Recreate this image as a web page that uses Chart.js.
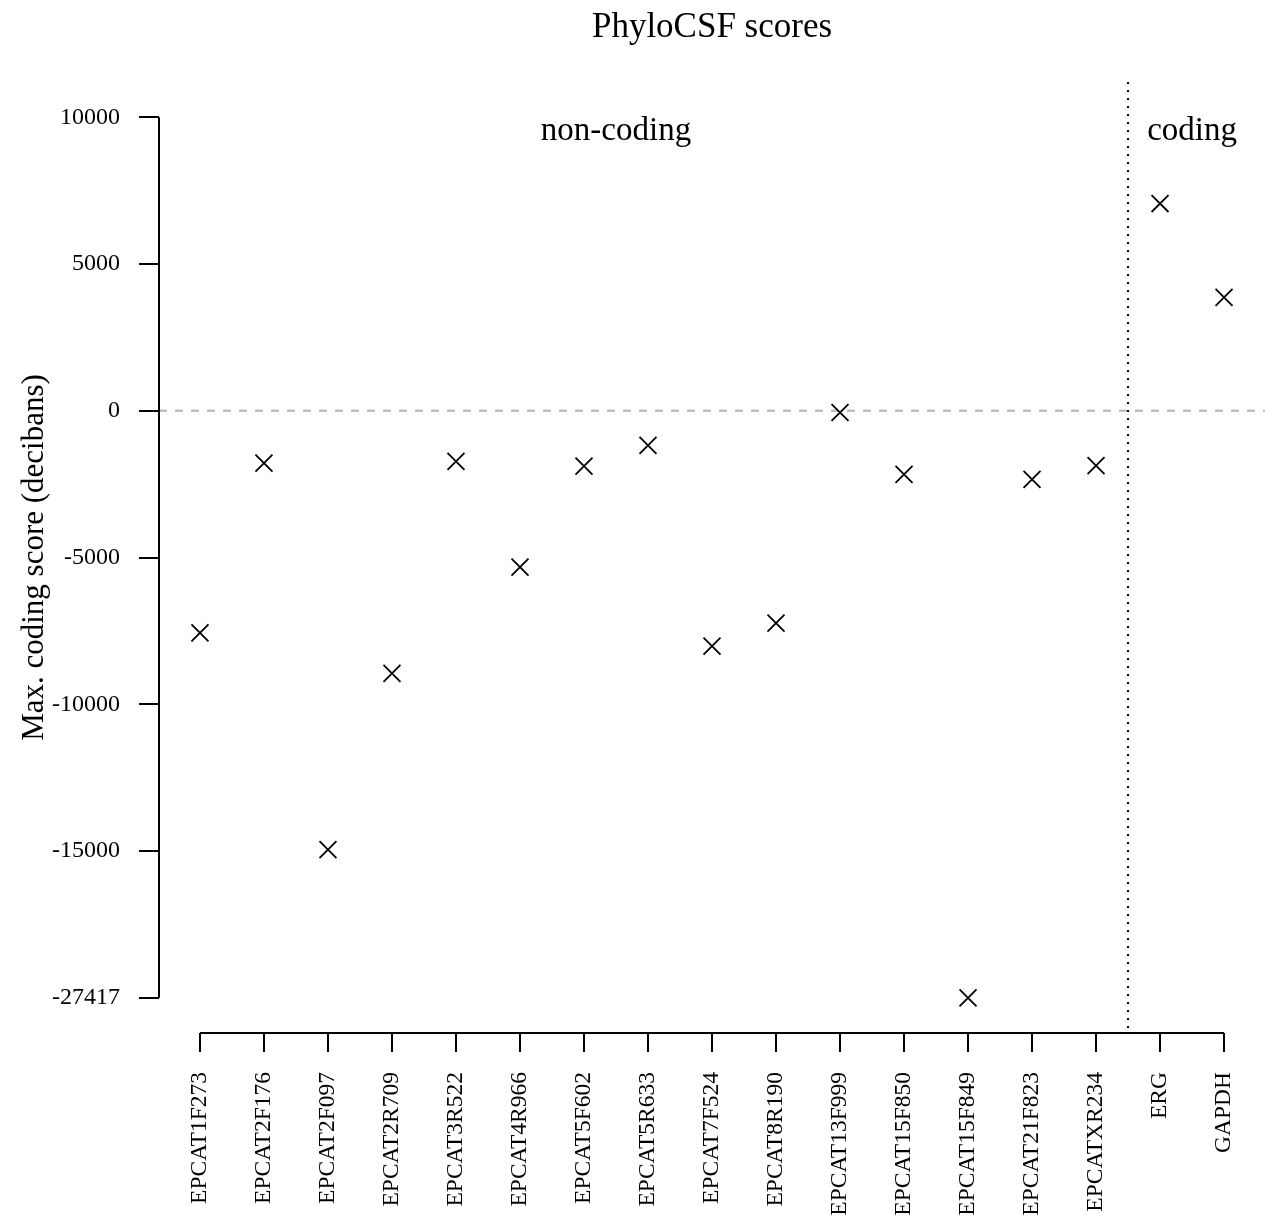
<!DOCTYPE html>
<html>
<head>
<meta charset="utf-8">
<title>PhyloCSF scores</title>
<script src="https://cdn.jsdelivr.net/npm/chart.js@4/dist/chart.umd.min.js"></script>
<style>
    body { margin: 0; background: #fff; }
    canvas { display: block; }
</style>
</head>
<body>
<canvas id="phylo-chart" width="1265" height="1220"></canvas>
<script>
// PhyloCSF max coding scores per transcript (decibans)
const transcripts = ['EPCAT1F273', 'EPCAT2F176', 'EPCAT2F097', 'EPCAT2R709', 'EPCAT3R522', 'EPCAT4R966',
    'EPCAT5F602', 'EPCAT5R633', 'EPCAT7F524', 'EPCAT8R190', 'EPCAT13F999', 'EPCAT15F850',
    'EPCAT15F849', 'EPCAT21F823', 'EPCATXR234', 'ERG', 'GAPDH'];
const maxScores = [-7570, -1785, -14950, -8950, -1727, -5329,
    -1888, -1182, -8020, -7237, -60, -2170,
    -27417, -2340, -1870, 7060, 3860];
const yTicks = [10000, 5000, 0, -5000, -10000, -15000, -20000];
const groupNames = ['non-coding', 'coding'];

// the axis is broken below -15000: the lowest score sits where -20000 would be
const breakAt = -15000;
const floorScore = -27417;
const floorPos = -20000;

function axisPos(v) {
    if (v >= breakAt) return v;
    return breakAt + (v - breakAt) * (floorPos - breakAt) / (floorScore - breakAt);
}

function tickText(v) {
    return v === floorPos ? String(floorScore) : String(v);
}

const FONT = "'Liberation Serif', 'Times New Roman', serif";
Chart.defaults.font.family = FONT;
Chart.defaults.color = '#000';

/**
 * R style decorations: short axes, reference lines, title and group labels
 */
const rStyle = {
    id: 'rStyle',
    beforeDatasetsDraw(chart) {
        const { ctx, chartArea, scales } = chart;
        const x = scales.x, y = scales.y;
        ctx.save();
        // zero line
        ctx.strokeStyle = '#bebebe';
        ctx.lineWidth = 2.5;
        ctx.setLineDash([8, 8]);
        ctx.beginPath();
        ctx.moveTo(chartArea.left, y.getPixelForValue(0));
        ctx.lineTo(chartArea.right, y.getPixelForValue(0));
        ctx.stroke();
        // split between non-coding and coding
        const split = x.getPixelForValue(transcripts.length - 2.5);
        ctx.strokeStyle = '#000';
        ctx.lineWidth = 2;
        ctx.setLineDash([2, 6]);
        ctx.beginPath();
        ctx.moveTo(split, chartArea.top);
        ctx.lineTo(split, chartArea.bottom);
        ctx.stroke();
        ctx.restore();
    },
    afterDraw(chart) {
        const { ctx, chartArea, scales } = chart;
        const x = scales.x, y = scales.y;
        ctx.save();
        ctx.strokeStyle = '#000';
        ctx.lineWidth = 2;
        ctx.beginPath();
        ctx.moveTo(chartArea.left, y.getPixelForValue(yTicks[0]));
        ctx.lineTo(chartArea.left, y.getPixelForValue(yTicks[yTicks.length - 1]));
        ctx.moveTo(x.getPixelForValue(0), chartArea.bottom);
        ctx.lineTo(x.getPixelForValue(transcripts.length - 1), chartArea.bottom);
        ctx.stroke();

        ctx.fillStyle = '#000';
        ctx.textAlign = 'center';
        ctx.textBaseline = 'alphabetic';
        ctx.font = '35px ' + FONT;
        ctx.fillText('PhyloCSF scores', (chartArea.left + chartArea.right) / 2, 37);

        ctx.font = '33px ' + FONT;
        const labelY = y.getPixelForValue(9210);
        ctx.fillText(groupNames[0], x.getPixelForValue(6.5), labelY);
        ctx.fillText(groupNames[1], x.getPixelForValue(15.5), labelY);
        ctx.restore();
    }
};

const ctx = document.getElementById('phylo-chart');
new Chart(ctx, {
    type: 'scatter',
    data: {
        datasets: [{
            data: maxScores.map((v, i) => ({ x: i, y: axisPos(v) })),
            pointStyle: 'crossRot',
            pointRadius: 12,
            pointHoverRadius: 12,
            borderColor: '#000',
            backgroundColor: '#000',
            borderWidth: 1.8,
            clip: false
        }]
    },
    options: {
        responsive: false,
        animation: false,
        events: [],
        layout: {
            autoPadding: false,
            padding: { top: 82, right: 0, bottom: 0, left: 0 }
        },
        plugins: {
            legend: { display: false },
            tooltip: { enabled: false },
            title: { display: false }
        },
        scales: {
            x: {
                type: 'linear',
                min: -0.64,
                max: transcripts.length - 1 + 0.64,
                afterBuildTicks: function (scale) {
                    scale.ticks = transcripts.map((_, i) => ({ value: i }));
                },
                afterFit: function (scale) {
                    scale.height = 187;
                    scale.paddingLeft = 0;
                    scale.paddingRight = 0;
                },
                ticks: {
                    autoSkip: false,
                    minRotation: 90,
                    maxRotation: 90,
                    padding: 20,
                    font: { size: 23.5 },
                    callback: function (value) {
                        return transcripts[value];
                    }
                },
                grid: {
                    drawOnChartArea: false,
                    drawTicks: true,
                    tickLength: 19,
                    color: '#000',
                    lineWidth: 2
                },
                border: { display: false }
            },
            y: {
                type: 'linear',
                min: -21200,
                max: 11200,
                afterBuildTicks: function (scale) {
                    scale.ticks = yTicks.map(v => ({ value: v }));
                },
                afterFit: function (scale) {
                    scale.width = 159;
                    scale.paddingTop = 0;
                    scale.paddingBottom = 0;
                },
                ticks: {
                    padding: 19,
                    font: { size: 24 },
                    callback: function (value) {
                        return tickText(value);
                    }
                },
                grid: {
                    drawOnChartArea: false,
                    drawTicks: true,
                    tickLength: 20,
                    color: '#000',
                    lineWidth: 2
                },
                border: { display: false },
                title: {
                    display: true,
                    text: 'Max. coding score (decibans)',
                    font: { size: 31 },
                    padding: { top: 16, bottom: 0 }
                }
            }
        }
    },
    plugins: [rStyle]
});
</script>
</body>
</html>
